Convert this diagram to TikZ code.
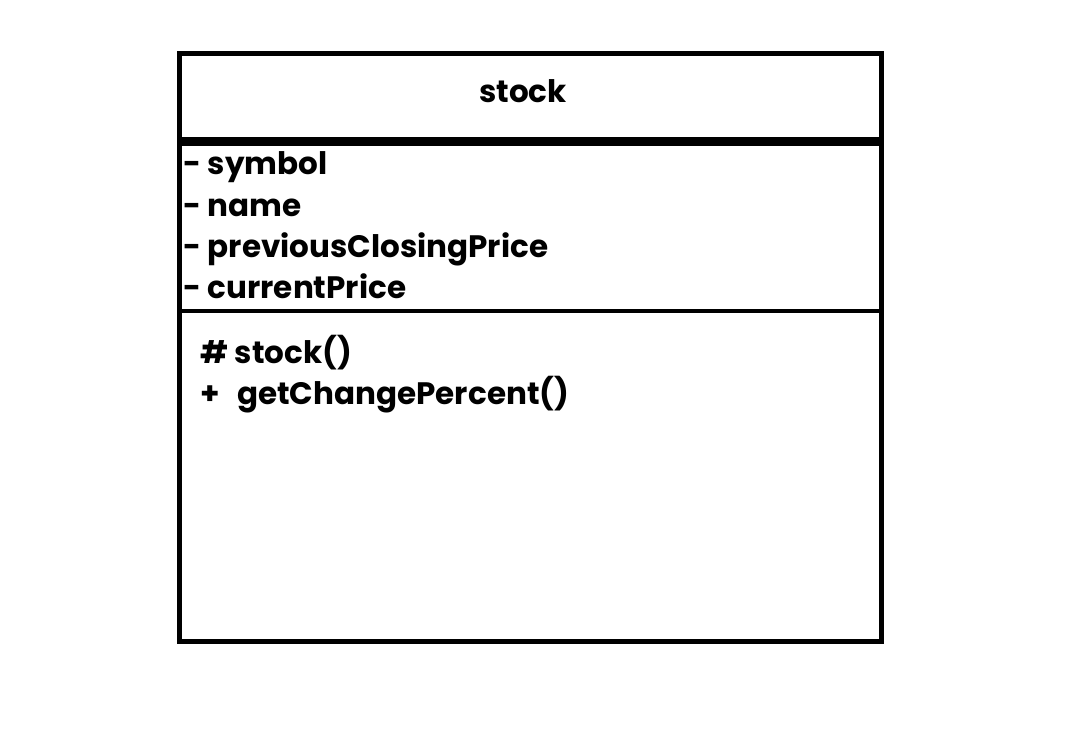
\documentclass[tikz,border=0pt]{standalone}
\usepackage{fontspec}
\setmainfont{Poppins}[BoldFont={* Bold}]
\begin{document}
\begin{tikzpicture}[x=1pt,y=-1pt,
  boxline/.style={draw=black,line width=4.5pt},
  sepline/.style={draw=black,line width=4.5pt},
  thicksep/.style={draw=black,line width=9pt},
  txt/.style={anchor=base west,inner sep=0pt,font=\fontsize{31}{31}\selectfont\bfseries},
  ttl/.style={anchor=base,inner sep=0pt,font=\fontsize{31}{31}\selectfont\bfseries}]
\useasboundingbox (0,0) rectangle (1074,748);
\coordinate (tl) at (179.5,53.5);
\coordinate (br) at (881.5,641.5);
\draw[boxline] (tl) rectangle (br);
\draw[thicksep] (179.5,141.3) -- (881.5,141.3);
\draw[sepline] (179.5,311) -- (881.5,311);
\node[ttl] (title) at (523,102) {stock};
\node[txt] (a1) at (183,174) {- symbol};
\node[txt] (a2) at (183,216) {- name};
\node[txt] (a3) at (183,257) {- previousClosingPrice};
\node[txt] (a4) at (183,298) {- currentPrice};
\node[txt] (m1) at (200,363) {\# stock()};
\node[txt] (m2) at (200,404) {+\hspace{11pt} getChangePercent()};
\end{tikzpicture}
\end{document}
